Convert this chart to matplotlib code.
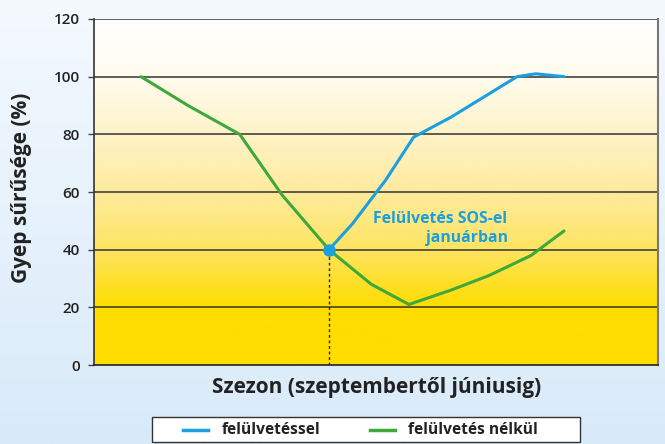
import numpy as np
import matplotlib.pyplot as plt
from matplotlib.colors import LinearSegmentedColormap
from matplotlib.lines import Line2D
from matplotlib.patches import Rectangle

plt.rcParams['font.family'] = ['Open Sans', 'DejaVu Sans']

# data (x = arbitrary season position, Sept -> June)
x_nelkul = [10, 20, 31, 40, 50, 59, 67, 76, 84, 93, 100]
y_nelkul = [100, 90, 80, 59, 40, 28, 21, 26, 31, 38, 46.5]

x_vel = [50, 55, 62, 68, 76, 80, 85, 90, 94, 100]
y_vel = [40, 49, 64, 79, 86, 90, 95, 100, 101, 100]

sos_x, sos_y = 50, 40
yticks = [0, 20, 40, 60, 80, 100, 120]
labels = ['felülvetéssel', 'felülvetés nélkül']

blue = '#1a9fe0'
green = '#3ea83a'
W, H = 665, 444

fig = plt.figure(figsize=(6.65, 4.44), dpi=100)

# light blue figure background
bg = fig.add_axes([0, 0, 1, 1], zorder=-10)
bg_cmap = LinearSegmentedColormap.from_list('bg', ['#f4f9fe', '#d8eaf9'])
bg.imshow(np.linspace(0, 1, 256).reshape(-1, 1), aspect='auto', cmap=bg_cmap,
          extent=[0, 1, 0, 1], origin='upper')
bg.axis('off')

ax = fig.add_axes([94 / W, 1 - 365 / H, 564 / W, 346 / H])
ax.set_xlim(0, 120)
ax.set_ylim(0, 120)

# yellow -> white gradient inside plot
stops = [(0.0, '#ffdd00'), (20 / 120, '#ffdd00'), (40 / 120, '#fee462'),
         (60 / 120, '#feeb9e'), (80 / 120, '#fef3c8'), (100 / 120, '#fffcee'),
         (1.0, '#ffffff')]
plot_cmap = LinearSegmentedColormap.from_list('plot', stops)
ax.imshow(np.linspace(0, 1, 512).reshape(-1, 1), aspect='auto', cmap=plot_cmap,
          extent=[0, 120, 0, 120], origin='lower', zorder=0)

for yv in yticks[1:]:
    ax.axhline(yv, color='#333333', lw=1.1, zorder=1)

ax.plot([sos_x, sos_x], [0, sos_y], color='#222222', lw=1, ls=(0, (2, 2)), zorder=2)
ax.plot(x_nelkul, y_nelkul, color=green, lw=2.2, solid_joinstyle='round',
        solid_capstyle='round', zorder=3)
ax.plot(x_vel, y_vel, color=blue, lw=2.2, solid_joinstyle='round',
        solid_capstyle='round', zorder=4)
ax.plot([sos_x], [sos_y], 'o', color=blue, ms=8, zorder=5)

ax.text(88, 47.3, 'Felülvetés SOS-el\njanuárban', color=blue, fontsize=11.3,
        fontweight='bold', ha='right', va='center', linespacing=1.25, zorder=6)

ax.set_xticks([])
ax.set_yticks(yticks)
ax.tick_params(axis='y', length=4, width=1, color='#444444', labelsize=11,
               labelcolor='#222222', pad=6)
for lab in ax.get_yticklabels():
    lab.set_fontweight('semibold')

ax.spines['top'].set_visible(False)
ax.spines['left'].set_color('#333333')
ax.spines['left'].set_linewidth(1.2)
ax.spines['bottom'].set_color('#222222')
ax.spines['bottom'].set_linewidth(1.2)
ax.spines['right'].set_color('#777777')
ax.spines['right'].set_linewidth(1.5)

ax.text(22 / W, 1 - 188 / H, 'Gyep sűrűsége (%)', transform=fig.transFigure,
        fontsize=15, fontweight='bold', color='#222222', rotation=90,
        ha='center', va='center')
fig.text(377 / W, 1 - 387 / H, 'Szezon (szeptembertől júniusig)', fontsize=15,
         fontweight='bold', color='#222222', ha='center', va='center')

# legend box drawn by hand so the entries sit where the reference has them
fig.add_artist(Rectangle((152 / W, 2 / H), 428 / W, 25 / H, transform=fig.transFigure,
                         facecolor='white', edgecolor='#333333', lw=1))
ly = 1 - 430 / H
for (x0, tx), col, lab in zip([(183, 222), (370, 408)], [blue, green], labels):
    fig.add_artist(Line2D([x0 / W, (x0 + 25) / W], [ly, ly], color=col, lw=2.5,
                          transform=fig.transFigure))
    fig.text(tx / W, ly, lab, fontsize=11.2, fontweight='bold', color='#222222',
             ha='left', va='center')

fig.savefig('out.png', dpi=100)
